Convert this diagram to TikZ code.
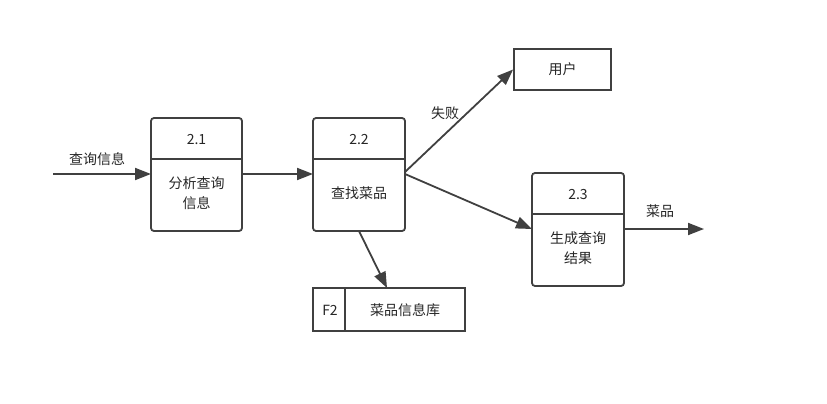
\documentclass[tikz,border=0pt]{standalone}
\usepackage{fontspec}
\setmainfont{Noto Sans CJK SC}
\usetikzlibrary{arrows.meta}
\definecolor{ln}{HTML}{404040}
\begin{document}
\begin{tikzpicture}[x=1pt,y=-1pt,
  proc/.style={draw=ln,line width=1.8pt,rounded corners=3pt},
  flow/.style={draw=ln,line width=1.8pt,-{Triangle[length=16pt,width=12pt]}},
  txt/.style={font=\fontsize{14}{20}\selectfont,text=black!85,align=center,inner sep=0pt}]
\useasboundingbox (0,0) rectangle (827,404);
\fill[white] (0,0) rectangle (827,404);
% process 2.1
\draw[proc] (151,118) rectangle (242,231);
\coordinate (p1a) at (151,159); \coordinate (p1b) at (242,159);
\draw[draw=ln,line width=1.8pt] (p1a) -- (p1b);
\node[txt] (n21) at (196.5,140) {2.1};
\node[txt] (t21) at (196.5,193) {分析查询\\信息};
\coordinate (p1w) at (151,174); \coordinate (p1e) at (242,174);
% process 2.2
\draw[proc] (313,118) rectangle (405,231);
\coordinate (p2a) at (313,159); \coordinate (p2b) at (405,159);
\draw[draw=ln,line width=1.8pt] (p2a) -- (p2b);
\node[txt] (n22) at (359,140) {2.2};
\node[txt] (t22) at (359,193) {查找菜品};
\coordinate (p2w) at (313,174); \coordinate (p2e) at (405,174);
\coordinate (p2s) at (359,231);
% process 2.3
\draw[proc] (532,173) rectangle (624,286);
\coordinate (p3a) at (532,214); \coordinate (p3b) at (624,214);
\draw[draw=ln,line width=1.8pt] (p3a) -- (p3b);
\node[txt] (n23) at (578,195) {2.3};
\node[txt] (t23) at (578,248) {生成查询\\结果};
\coordinate (p3w) at (532,229); \coordinate (p3e) at (624,229);
% user
\node[draw=ln,line width=1.8pt,minimum width=97pt,minimum height=41pt,txt] (user) at (562.5,69.5) {用户};
% store
\node[draw=ln,line width=1.8pt,minimum width=152pt,minimum height=43pt,inner sep=0pt] (store) at (389,309.5) {};
\coordinate (sa) at (345,288); \coordinate (sb) at (345,331);
\draw[draw=ln,line width=1.8pt] (sa) -- (sb);
\node[txt] (f2) at (330,310) {F2};
\node[txt] (lib) at (405,310) {菜品信息库};
% flows
\coordinate (in) at (53,174);
\coordinate (out) at (704,229);
\draw[flow] (in) -- (p1w);
\node[txt] (lin) at (97,159) {查询信息};
\draw[flow] (p1e) -- (p2w);
\draw[flow] (405,172) -- (user.west);
\node[txt] (lfail) at (445,113) {失败};
\draw[flow] (p2e) -- (p3w);
\draw[flow] (p2s) -- (387,288);
\draw[flow] (p3e) -- (out);
\node[txt] (lout) at (660,211) {菜品};
\end{tikzpicture}
\end{document}
